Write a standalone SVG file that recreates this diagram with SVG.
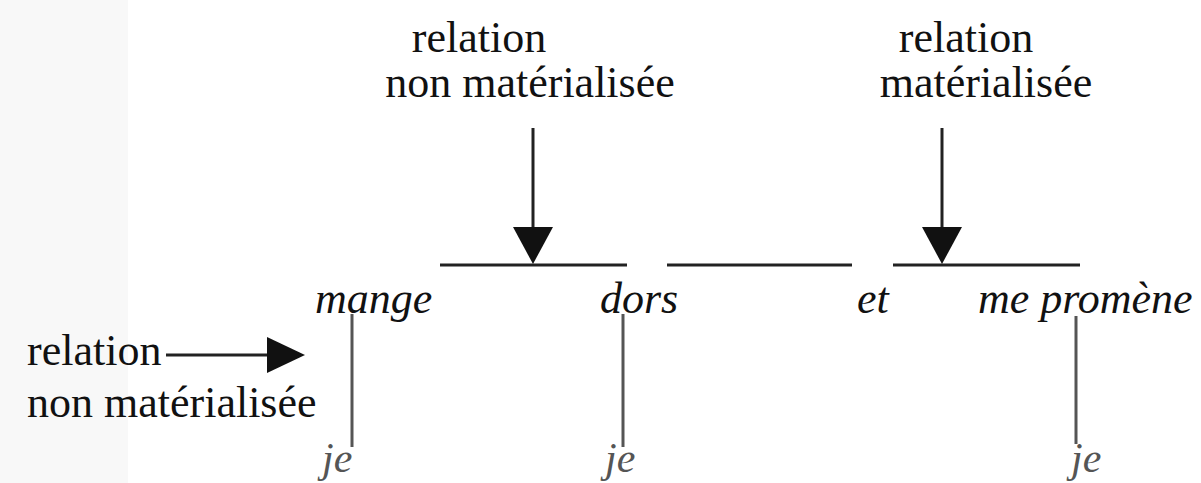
<svg xmlns="http://www.w3.org/2000/svg" width="1201" height="483" viewBox="0 0 1201 483">
<style>
.lbl{font-family:'Liberation Serif',serif;font-size:44px;fill:#111}
.w{font-family:'Liberation Serif',serif;font-size:44px;font-style:italic;fill:#111}
.je{font-family:'Liberation Serif',serif;font-size:42px;font-style:italic;fill:#555}
.bar{stroke:#222;stroke-width:3;fill:none}
.stem{stroke:#555;stroke-width:3;fill:none}
.ar{stroke:#222;stroke-width:3;fill:none}
.head{fill:#111}
</style>
<rect x="0" y="0" width="1201" height="483" fill="#fff"/>
<rect x="0" y="0" width="128" height="483" fill="#f8f8f8"/>
<g id="label-top-left">
<text class="lbl" x="479" y="52" text-anchor="middle">relation</text>
<text class="lbl" x="530" y="97" text-anchor="middle">non matérialisée</text>
</g>
<g id="label-top-right">
<text class="lbl" x="966" y="52" text-anchor="middle">relation</text>
<text class="lbl" x="986" y="97" text-anchor="middle">matérialisée</text>
</g>
<g id="label-left">
<text class="lbl" x="27" y="365">relation</text>
<text class="lbl" x="27" y="417">non matérialisée</text>
</g>
<g id="node-mange"><text class="w" x="315" y="313">mange</text></g>
<g id="node-dors"><text class="w" x="600" y="313">dors</text></g>
<g id="node-et"><text class="w" x="857" y="313">et</text></g>
<g id="node-me-promene"><text class="w" x="978" y="313">me promène</text></g>
<g id="node-je1"><text class="je" x="322" y="472">je</text></g>
<g id="node-je2"><text class="je" x="605" y="472">je</text></g>
<g id="node-je3"><text class="je" x="1071" y="472">je</text></g>
<g id="connectors">
<line class="bar" x1="440" y1="265" x2="627" y2="265"/>
<line class="bar" x1="667" y1="265" x2="852" y2="265"/>
<line class="bar" x1="893" y1="265" x2="1080" y2="265"/>
<line class="stem" x1="352" y1="314" x2="352" y2="447"/>
<line class="stem" x1="623" y1="314" x2="623" y2="447"/>
<line class="stem" x1="1076" y1="316" x2="1076" y2="444"/>
<line class="ar" x1="533" y1="128" x2="533" y2="230"/>
<polygon class="head" points="513,227 553,227 533,264"/>
<line class="ar" x1="942" y1="128" x2="942" y2="230"/>
<polygon class="head" points="922,227 962,227 942,264"/>
<line class="ar" x1="166" y1="355" x2="270" y2="355"/>
<polygon class="head" points="267,337 267,373 305,355"/>
</g>
</svg>
